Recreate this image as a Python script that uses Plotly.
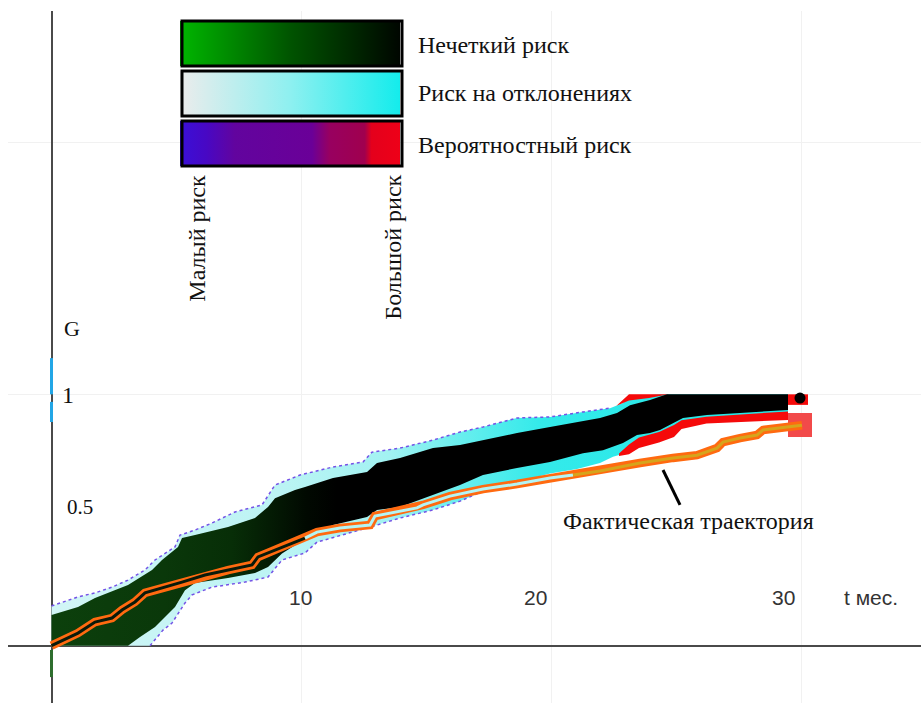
import plotly.graph_objects as go

# ---------------- data (t in months, G) ----------------
outer_up_t = [0, 1.06, 1.74, 2.42, 3.06, 3.74, 4.14, 4.94, 5.14, 5.74, 6.42, 7.34, 8.42, 8.66, 8.94, 9.94,
              11.26, 12.46, 12.82, 13.94, 15.26, 16.34, 17.26, 18.62, 19.94, 21.26, 22.34, 22.86, 23.14,
              23.94, 24.34, 29.46]
outer_up_g = [0.158, 0.194, 0.210, 0.233, 0.261, 0.301, 0.341, 0.393, 0.440, 0.460, 0.488, 0.532, 0.560,
              0.599, 0.639, 0.679, 0.711, 0.731, 0.770, 0.786, 0.818, 0.850, 0.870, 0.906, 0.910, 0.930,
              0.945, 0.965, 0.989, 0.997, 1.0, 1.0]

outer_lo_t = [0, 3.94, 4.46, 4.82, 5.34, 5.62, 6.42, 7.74, 8.66, 9.22, 10.14, 10.62, 11.94, 13.02, 13.94,
              15.26, 16.34, 17.26, 18.62, 19.94, 21.02, 21.94, 22.46, 23.02, 23.54, 24.34, 24.86, 25.2,
              26.22, 27.54, 29.46]
outer_lo_g = [0, 0, 0.062, 0.090, 0.170, 0.202, 0.233, 0.253, 0.273, 0.341, 0.369, 0.412, 0.448, 0.480,
              0.508, 0.540, 0.575, 0.615, 0.650, 0.685, 0.703, 0.727, 0.752, 0.768, 0.800, 0.826, 0.848,
              0.880, 0.900, 0.905, 0.912]

inner_up_t = [0, 1.06, 1.74, 3.06, 4.02, 4.42, 5.06, 5.22, 5.74, 7.06, 8.14, 8.66, 8.94, 9.74, 10.14,
              11.26, 12.62, 13.02, 13.94, 15.26, 16.34, 17.26, 18.62, 19.94, 21.02, 21.94, 22.62, 23.14,
              23.94, 24.62, 29.46]
inner_up_g = [0.122, 0.154, 0.190, 0.241, 0.301, 0.341, 0.393, 0.428, 0.440, 0.472, 0.508, 0.552, 0.587,
              0.619, 0.631, 0.667, 0.691, 0.727, 0.747, 0.786, 0.798, 0.818, 0.846, 0.870, 0.890, 0.906,
              0.926, 0.957, 0.977, 1.0, 1.0]

inner_lo_t = [0, 3.06, 3.54, 4.14, 4.54, 4.94, 5.34, 5.74, 7.06, 8.14, 8.66, 9.22, 9.74, 10.14, 11.26,
              12.62, 13.02, 13.94, 15.26, 16.34, 17.26, 18.62, 19.94, 21.26, 22.06, 22.86, 23.42, 23.94,
              24.34, 24.86, 25.26, 26.22, 27.54, 29.46]
inner_lo_g = [0, 0, 0.035, 0.074, 0.114, 0.154, 0.221, 0.249, 0.269, 0.289, 0.313, 0.367, 0.400, 0.420,
              0.480, 0.512, 0.540, 0.552, 0.600, 0.639, 0.679, 0.707, 0.731, 0.766, 0.778, 0.806, 0.838,
              0.846, 0.858, 0.886, 0.906, 0.918, 0.926, 0.938]

red_t = [22.7, 23.1, 23.5, 24.3, 24.9, 25.2, 26.2, 27.5, 29.46]
red_lo = [0.755, 0.762, 0.786, 0.808, 0.830, 0.862, 0.884, 0.890, 0.898]
red_hi = [0.765, 0.800, 0.828, 0.850, 0.878, 0.897, 0.911, 0.920, 0.932]

red_top_t = [22.6, 23.1, 23.9, 24.7, 23.9, 23.1, 22.6]
red_top_g = [0.955, 1.0, 1.0, 1.0, 0.985, 0.975, 0.955]

end_box_t = [29.46, 30.26, 30.26, 29.46]
end_box_g = [0.958, 0.958, 1.0, 1.0]
end_dot_t = [29.94]
end_dot_g = [0.985]
end_square_t = [29.94]
end_square_g = [0.878]

traj_t = [0, 1.06, 1.74, 2.42, 2.82, 3.34, 3.74, 4.42, 5.22, 6.14, 7.06, 8.02, 8.26, 8.94, 9.74, 10.14,
          10.62, 11.54, 12.74, 12.94, 14.62, 14.86, 15.94, 17.26, 18.62, 19.94, 20.86, 21.94, 23.54,
          24.86, 25.82, 26.62, 26.86, 27.54, 28.22, 28.46, 29.42, 30.02]
traj_g = [0, 0.050, 0.094, 0.110, 0.142, 0.174, 0.210, 0.229, 0.253, 0.281, 0.301, 0.321, 0.353, 0.381,
          0.412, 0.428, 0.452, 0.468, 0.480, 0.516, 0.548, 0.560, 0.595, 0.623, 0.643, 0.667, 0.679,
          0.695, 0.727, 0.747, 0.758, 0.786, 0.810, 0.826, 0.838, 0.858, 0.870, 0.877]

pointer_t = [24.46, 25.14]
pointer_g = [0.699, 0.560]

axis_blue_a = [0.89, 0.97]
axis_blue_b = [1.0, 1.144]
axis_green = [-0.017, -0.125]

x_tick_vals = [10, 20, 30]
x_tick_pos = [9.94, 19.34, 29.26]
x_tick_text = ["10", "20", "30"]

SERIF = "Liberation Serif"
SANS = "Liberation Sans"

fig = go.Figure()


def band(tu, gu, tl, gl):
    return list(tu) + list(tl)[::-1], list(gu) + list(gl)[::-1]


# outer (deviation risk) band
bx, by = band(outer_up_t, outer_up_g, outer_lo_t, outer_lo_g)
fig.add_trace(go.Scatter(
    x=bx, y=by, mode="lines", fill="toself", line=dict(width=0),
    fillgradient=dict(type="horizontal", start=0, stop=30,
                      colorscale=[[0, "#d2f6f6"], [0.3, "#bcf4f4"], [0.45, "#a2f2f2"],
                                  [0.55, "#66eeee"], [0.65, "#34eaea"], [1, "#22e8e8"]]),
    hoverinfo="skip"))

# dotted purple edges
eu = [(t, g) for t, g in zip(outer_up_t, outer_up_g) if t <= 22.4]
el = [(t, g) for t, g in zip(outer_lo_t, outer_lo_g) if 3.9 <= t <= 17.3]
for pts in (eu, el):
    fig.add_trace(go.Scatter(x=[p[0] for p in pts], y=[p[1] for p in pts], mode="lines",
                             line=dict(color="#7452e6", width=1.5, dash="dot"), hoverinfo="skip"))

# red (probabilistic) zones
rx, ry = band(red_t, red_hi, red_t, red_lo)
fig.add_trace(go.Scatter(x=rx, y=ry, mode="lines", fill="toself", line=dict(width=0),
                         fillcolor="#f50a0a", hoverinfo="skip"))
fig.add_trace(go.Scatter(x=red_top_t, y=red_top_g, mode="lines", fill="toself", line=dict(width=0),
                         fillcolor="#f50a0a", hoverinfo="skip"))

# inner (fuzzy risk) band
ix, iy = band(inner_up_t, inner_up_g, inner_lo_t, inner_lo_g)
fig.add_trace(go.Scatter(
    x=ix, y=iy, mode="lines", fill="toself", line=dict(width=0),
    fillgradient=dict(type="horizontal", start=0, stop=30,
                      colorscale=[[0, "#0c400c"], [0.15, "#0a380a"], [0.24, "#072e07"],
                                  [0.29, "#041c04"], [0.34, "#010901"], [0.38, "#000000"],
                                  [1, "#000000"]]),
    hoverinfo="skip"))

# end markers
fig.add_trace(go.Scatter(x=end_box_t, y=end_box_g, mode="lines", fill="toself", line=dict(width=0),
                         fillcolor="#f50a0a", hoverinfo="skip"))
fig.add_trace(go.Scatter(x=end_dot_t, y=end_dot_g, mode="markers",
                         marker=dict(symbol="circle", size=11, color="#000000"), hoverinfo="skip"))
fig.add_trace(go.Scatter(x=end_square_t, y=end_square_g, mode="markers",
                         marker=dict(symbol="square", size=24, color="#f24a4a", line=dict(width=0)),
                         hoverinfo="skip"))

# actual trajectory: orange outline with inner stripe
fig.add_trace(go.Scatter(x=traj_t, y=traj_g, mode="lines",
                         line=dict(color="#ff6a10", width=8.5), hoverinfo="skip"))
i1 = traj_t.index(10.14)
i2 = traj_t.index(20.86)
for a, b, col in ((0, i1 + 1, "#0a1a0a"), (i1, i2 + 1, "#b4f4f4"), (i2, len(traj_t), "#d6a41c")):
    fig.add_trace(go.Scatter(x=traj_t[a:b], y=traj_g[a:b], mode="lines",
                             line=dict(color=col, width=3), hoverinfo="skip"))

# pointer
fig.add_trace(go.Scatter(x=pointer_t, y=pointer_g, mode="lines",
                         line=dict(color="#000000", width=3), hoverinfo="skip"))

# coloured marks on the G axis
fig.add_trace(go.Scatter(x=[0, 0], y=axis_blue_a, mode="lines", line=dict(color="#22a6e6", width=3),
                         hoverinfo="skip"))
fig.add_trace(go.Scatter(x=[0, 0], y=axis_blue_b, mode="lines", line=dict(color="#22a6e6", width=3),
                         hoverinfo="skip"))
fig.add_trace(go.Scatter(x=[0, 0], y=axis_green, mode="lines", line=dict(color="#2e6e2e", width=3),
                         hoverinfo="skip"))

# legend colour bars
scales = [
    [[0, "#00b600"], [0.5, "#005400"], [1, "#000600"]],
    [[0, "#ececec"], [0.5, "#8ef0f0"], [1, "#14ecec"]],
    [[0, "#3a10d8"], [0.12, "#4808c4"], [0.25, "#62049e"], [0.6, "#6a0098"], [0.68, "#980060"],
     [0.84, "#a0004e"], [0.87, "#e4001c"], [1, "#ee0018"]],
]
tops = [21, 71, 121]
for cs, top in zip(scales, tops):
    fig.add_trace(go.Scatter(
        x=[None], y=[None], mode="markers", hoverinfo="skip",
        marker=dict(color=[0.5], cmin=0, cmax=1, colorscale=cs, showscale=True,
                    colorbar=dict(orientation="h", xref="container", yref="container",
                                  x=182 / 921, xanchor="left", y=1 - top / 703, yanchor="top",
                                  len=220, lenmode="pixels", thickness=45, thicknessmode="pixels",
                                  outlinewidth=3, outlinecolor="#000000", showticklabels=False,
                                  ticks="", xpad=0, ypad=0, borderwidth=0,
                                  bgcolor="rgba(0,0,0,0)"))))

ann = []
legend_labels = ["Нечеткий риск", "Риск на отклонениях", "Вероятностный риск"]
legend_g = [2.388, 2.200, 1.993]
for lab, g in zip(legend_labels, legend_g):
    ann.append(dict(x=14.58, y=g, text=lab, xanchor="left", yanchor="middle", showarrow=False,
                    font=dict(family=SERIF, size=24, color="#111111")))
ann.append(dict(x=5.82, y=1.88, text="Малый риск", textangle=-90, xanchor="center", yanchor="top",
                showarrow=False, font=dict(family=SERIF, size=24, color="#111111")))
ann.append(dict(x=13.66, y=1.88, text="Большой риск", textangle=-90, xanchor="center", yanchor="top",
                showarrow=False, font=dict(family=SERIF, size=24, color="#111111")))
ann.append(dict(x=0.82, y=1.262, text="G", showarrow=False,
                font=dict(family=SERIF, size=22, color="#111111")))
ann.append(dict(x=0.66, y=0.998, text="1", showarrow=False,
                font=dict(family=SERIF, size=24, color="#111111")))
ann.append(dict(x=1.14, y=0.552, text="0.5", showarrow=False,
                font=dict(family=SERIF, size=21, color="#111111")))
for p, s in zip(x_tick_pos, x_tick_text):
    ann.append(dict(x=p, y=0.19, text=s, showarrow=False,
                    font=dict(family=SANS, size=21, color="#333333")))
ann.append(dict(x=32.78, y=0.19, text="t мес.", showarrow=False,
                font=dict(family=SANS, size=21, color="#333333")))
ann.append(dict(x=25.46, y=0.496, text="Фактическая траектория", showarrow=False,
                font=dict(family=SERIF, size=24, color="#111111")))

fig.update_layout(
    width=921, height=703,
    margin=dict(l=8, r=0, t=11, b=0, autoexpand=False),
    paper_bgcolor="white", plot_bgcolor="white",
    showlegend=False,
    annotations=ann,
    xaxis=dict(range=[-1.74, 34.78], tickvals=[0] + x_tick_vals, showticklabels=False,
               showgrid=True, gridcolor="#f1f1f1", gridwidth=1,
               zeroline=True, zerolinecolor="#4a4a4a", zerolinewidth=2, fixedrange=True),
    yaxis=dict(range=[-0.228, 2.525], dtick=1, showticklabels=False,
               showgrid=True, gridcolor="#f1f1f1", gridwidth=1,
               zeroline=True, zerolinecolor="#4a4a4a", zerolinewidth=2, fixedrange=True),
)

fig.write_html("out.html")
